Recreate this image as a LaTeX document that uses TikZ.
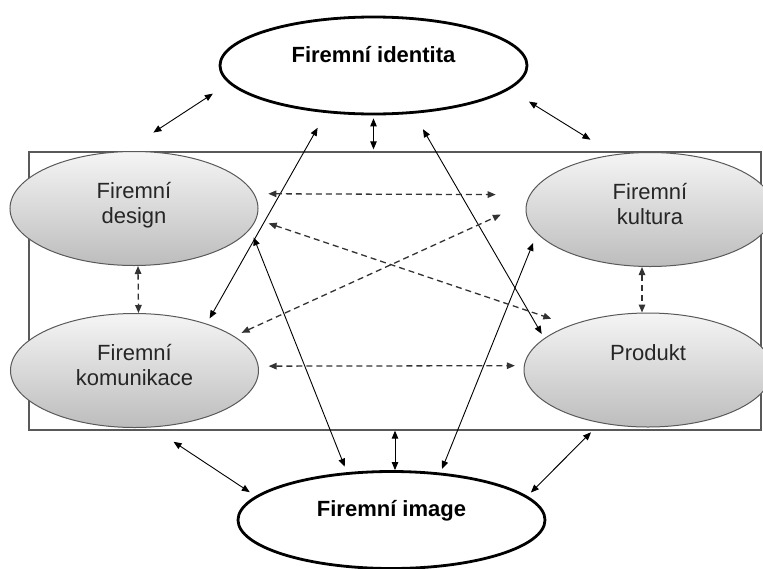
\documentclass[tikz,border=0pt]{standalone}
\usepackage{fontspec}
\setmainfont{Liberation Sans}
\usetikzlibrary{arrows.meta, shapes.geometric, calc}

\begin{document}
\begin{tikzpicture}[x=1pt, y=-1pt,
    >={Triangle[length=8pt, width=6.5pt]},
    hlavni/.style={ellipse, draw=black, line width=2.8pt, fill=white, inner sep=0pt,
      minimum width=307pt, minimum height=97pt, font=\fontsize{22}{25}\selectfont\bfseries,
      text height=16pt, text depth=23pt},
    slozka/.style={ellipse, draw=black!65, line width=1pt, top color=black!4, bottom color=black!26,
      inner sep=0pt, minimum width=248pt, minimum height=114pt, align=center,
      font=\fontsize{22}{25}\selectfont, text=black!85, text height=41pt, text depth=11pt},
    vazba/.style={<->, line width=0.9pt},
    slaba/.style={<->, line width=1.3pt, black!80, dash pattern=on 6pt off 4pt}]
  \useasboundingbox (0,0) rectangle (763,568);
  \clip (0,0) rectangle (763,568);

  \node[rectangle, draw=black!65, line width=1.3pt, inner sep=0pt,
    minimum width=732pt, minimum height=278pt] (ramec) at (395,291) {};

  \node[hlavni] (identita) at (373.5,65.5) {Firemní identita};
  \node[hlavni] (image) at (391.5,520) {Firemní image};

  \node[slozka] (design) at (134,208.5) {Firemní\\design};
  \node[slozka] (komunikace) at (134.5,370.5) {Firemní\\komunikace};
  \node[slozka] (kultura) at (650,209.5) {Firemní\\kultura};
  \node[slozka, text height=16pt, text depth=36pt] (produkt) at (648,370) {Produkt};

  \draw[vazba, shorten <=34pt, shorten >=19pt] (design.99) -- (identita.187);
  \draw[vazba, shorten <=23pt, shorten >=28pt] (identita.350) -- (kultura.123);
  \draw[vazba, shorten <=26pt, shorten >=7pt] (komunikace.287) -- (image.170);
  \draw[vazba, shorten <=5pt, shorten >=13pt] (image.10) -- (produkt.228);
  \draw[vazba, shorten <=3pt, shorten >=2pt] (identita.south) -- (identita.south |- ramec.north);
  \draw[vazba] (ramec.south) -- (ramec.south |- image.north);

  \draw[vazba, shorten <=6pt, shorten >=17pt] (komunikace.33) -- (identita.225);
  \draw[vazba, shorten <=9pt, shorten >=6pt] (design.350) -- (image.133);
  \draw[vazba, shorten <=18pt, shorten >=5pt] (identita.310) -- (produkt.163);
  \draw[vazba, shorten <=10pt, shorten >=4pt] (kultura.192) -- (image.44);

  \draw[slaba, shorten <=14pt, shorten >=34pt] (design.7) -- (kultura.173);
  \draw[slaba, shorten <=10pt, shorten >=9pt] (komunikace.2) -- (produkt.178);
  \draw[slaba, shorten <=13pt, shorten >=20pt] (design.355) -- (produkt.150);
  \draw[slaba, shorten <=8pt, shorten >=28pt] (komunikace.19) -- (kultura.177);
  \draw[slaba] ([xshift=4pt]design.south) -- ([xshift=4pt]komunikace.north);
  \draw[slaba] ([xshift=-8pt]kultura.south) -- ([xshift=-6pt]produkt.north);
\end{tikzpicture}
\end{document}
